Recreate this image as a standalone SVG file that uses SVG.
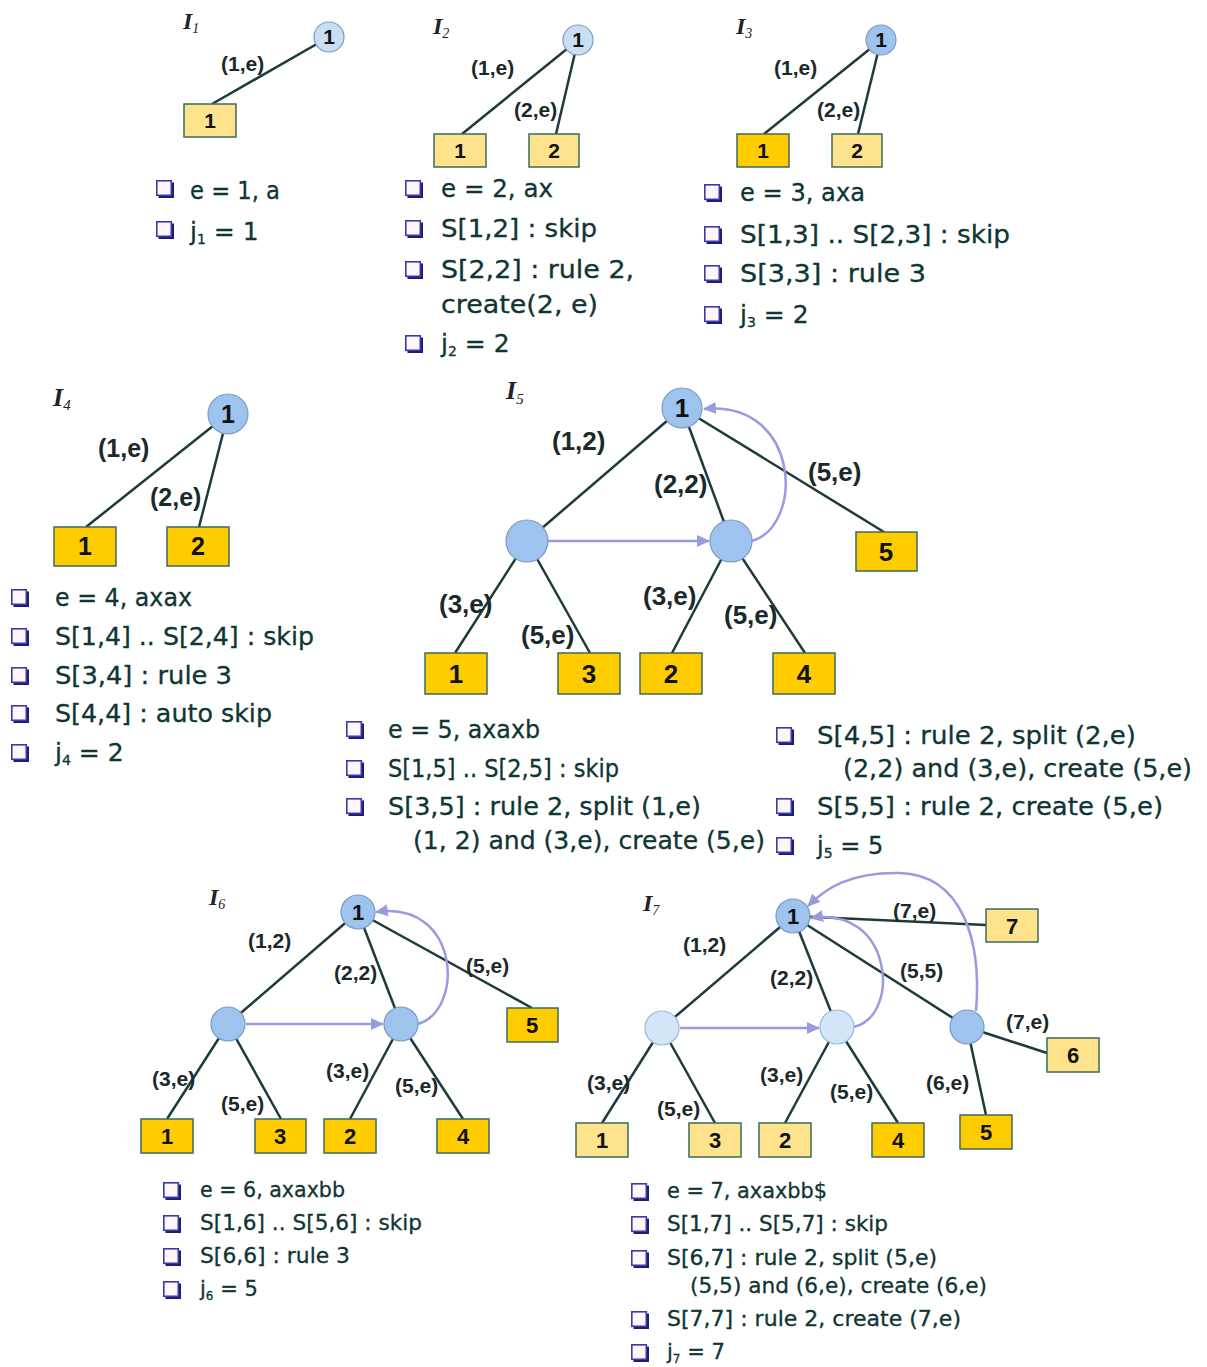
<svg xmlns="http://www.w3.org/2000/svg" xmlns:xlink="http://www.w3.org/1999/xlink" width="1207" height="1367" viewBox="0 0 1207 1367">
<style>
.e{stroke:#1f3a3a;stroke-width:2.5;fill:none}
.b{stroke:#9a9ae0;stroke-width:2.5;fill:none}
.lt{fill:#ffe38c;stroke:#3b6b5b;stroke-width:1.5}
.st{fill:#ffcc00;stroke:#3b6b5b;stroke-width:1.5}
.c1{fill:#c8def3;stroke:#7a9cc0;stroke-width:1.2}
.c2{fill:#9dc3ee;stroke:#7a9cc0;stroke-width:1.2}
.c3{fill:#d3e6f8;stroke:#9ab8d8;stroke-width:1.2}
.n{font-family:"Liberation Sans",Arial,sans-serif;font-weight:bold;fill:#111;text-anchor:middle}
.l{font-family:"Liberation Sans",Arial,sans-serif;font-weight:bold;fill:#1a2a2a}
.t{font-family:"DejaVu Sans","Liberation Sans",sans-serif;fill:#0f3535;stroke:#0f3535;stroke-width:0.3}
.I{font-family:"Liberation Serif","Times New Roman",serif;font-style:italic;font-weight:bold;fill:#222}
</style>
<defs>
<marker id="ar" markerUnits="userSpaceOnUse" markerWidth="14" markerHeight="12" refX="12" refY="6" orient="auto">
<path d="M0,0 L13,6 L0,12 Z" fill="#9a9ae0"/>
</marker>
<g id="bul"><rect x="2.5" y="2.5" width="15.5" height="15.5" fill="#1c1c78"/><rect x="0.8" y="0.8" width="14.5" height="14.5" fill="#fff6fb" stroke="#3a3aa8" stroke-width="1.6"/></g>
</defs>
<rect width="1207" height="1367" fill="#fff"/>

<g id="connectors">
<line class="e" x1="329" y1="37" x2="212" y2="104"/>
<line class="e" x1="578" y1="40" x2="462" y2="134"/>
<line class="e" x1="578" y1="40" x2="556" y2="134"/>
<line class="e" x1="881" y1="40" x2="764" y2="134"/>
<line class="e" x1="881" y1="40" x2="858" y2="134"/>
<line class="e" x1="228" y1="414" x2="86" y2="527"/>
<line class="e" x1="228" y1="414" x2="199" y2="527"/>
<line class="e" x1="682" y1="408" x2="527" y2="541"/>
<line class="e" x1="682" y1="408" x2="731" y2="541"/>
<line class="e" x1="682" y1="408" x2="884" y2="532"/>
<line class="e" x1="527" y1="541" x2="455" y2="653"/>
<line class="e" x1="527" y1="541" x2="590" y2="653"/>
<line class="e" x1="731" y1="541" x2="672" y2="653"/>
<line class="e" x1="731" y1="541" x2="805" y2="653"/>
<line class="b" x1="548" y1="541" x2="709" y2="541" marker-end="url(#ar)"/>
<path class="b" d="M752,541 C805,525 800,400 704,409" marker-end="url(#ar)"/>
<line class="e" x1="358" y1="912" x2="228" y2="1024"/>
<line class="e" x1="358" y1="912" x2="401" y2="1024"/>
<line class="e" x1="358" y1="912" x2="532" y2="1008"/>
<line class="e" x1="228" y1="1024" x2="167" y2="1119"/>
<line class="e" x1="228" y1="1024" x2="281" y2="1119"/>
<line class="e" x1="401" y1="1024" x2="350" y2="1119"/>
<line class="e" x1="401" y1="1024" x2="463" y2="1119"/>
<line class="b" x1="246" y1="1024" x2="383" y2="1024" marker-end="url(#ar)"/>
<path class="b" d="M418,1024 C465,1010 460,900 376,912" marker-end="url(#ar)"/>
<line class="e" x1="793" y1="916" x2="986" y2="925"/>
<line class="e" x1="793" y1="916" x2="662" y2="1028"/>
<line class="e" x1="793" y1="916" x2="837" y2="1027"/>
<line class="e" x1="793" y1="916" x2="967" y2="1027"/>
<line class="e" x1="967" y1="1027" x2="1047" y2="1053"/>
<line class="e" x1="967" y1="1027" x2="986" y2="1115"/>
<line class="e" x1="662" y1="1028" x2="602" y2="1123"/>
<line class="e" x1="662" y1="1028" x2="715" y2="1123"/>
<line class="e" x1="837" y1="1027" x2="785" y2="1123"/>
<line class="e" x1="837" y1="1027" x2="898" y2="1123"/>
<line class="b" x1="680" y1="1028" x2="819" y2="1028" marker-end="url(#ar)"/>
<path class="b" d="M854,1027 C902,1015 892,905 811,918" marker-end="url(#ar)"/>
<path class="b" d="M976,1011 C982,940 962,875 900,873 C850,872 826,888 808,906" marker-end="url(#ar)"/>
</g>

<g id="edge-labels">
<text class="l" font-size="21" x="221" y="71">(1,e)</text>
<text class="l" font-size="21" x="471" y="75">(1,e)</text>
<text class="l" font-size="21" x="514" y="117">(2,e)</text>
<text class="l" font-size="21" x="774" y="75">(1,e)</text>
<text class="l" font-size="21" x="817" y="117">(2,e)</text>
<text class="l" font-size="25" x="98" y="457">(1,e)</text>
<text class="l" font-size="25" x="150" y="506">(2,e)</text>
<text class="l" font-size="26" x="552" y="450">(1,2)</text>
<text class="l" font-size="26" x="654" y="493">(2,2)</text>
<text class="l" font-size="26" x="808" y="481">(5,e)</text>
<text class="l" font-size="26" x="439" y="613">(3,e)</text>
<text class="l" font-size="26" x="521" y="644">(5,e)</text>
<text class="l" font-size="26" x="643" y="605">(3,e)</text>
<text class="l" font-size="26" x="724" y="624">(5,e)</text>
<text class="l" font-size="21" x="248" y="948">(1,2)</text>
<text class="l" font-size="21" x="334" y="980">(2,2)</text>
<text class="l" font-size="21" x="466" y="973">(5,e)</text>
<text class="l" font-size="21" x="152" y="1086">(3,e)</text>
<text class="l" font-size="21" x="221" y="1111">(5,e)</text>
<text class="l" font-size="21" x="326" y="1078">(3,e)</text>
<text class="l" font-size="21" x="395" y="1093">(5,e)</text>
<text class="l" font-size="21" x="683" y="952">(1,2)</text>
<text class="l" font-size="21" x="770" y="985">(2,2)</text>
<text class="l" font-size="21" x="900" y="978">(5,5)</text>
<text class="l" font-size="21" x="893" y="918">(7,e)</text>
<text class="l" font-size="21" x="1006" y="1029">(7,e)</text>
<text class="l" font-size="21" x="926" y="1090">(6,e)</text>
<text class="l" font-size="21" x="587" y="1090">(3,e)</text>
<text class="l" font-size="21" x="657" y="1116">(5,e)</text>
<text class="l" font-size="21" x="760" y="1082">(3,e)</text>
<text class="l" font-size="21" x="830" y="1099">(5,e)</text>
</g>

<g id="I1">
<text class="I" font-size="24" x="183" y="29">I<tspan font-size="14" font-weight="normal" dy="4">1</tspan></text>
<g id="I1-root"><circle class="c1" cx="329" cy="37" r="15"/><text class="n" font-size="21" x="329" y="44">1</text></g>
<g id="I1-leaf1"><rect class="lt" x="184" y="104" width="52" height="33"/><text class="n" font-size="21" x="210" y="128">1</text></g>
</g>
<g id="I2">
<text class="I" font-size="24" x="433" y="34">I<tspan font-size="14" font-weight="normal" dy="4">2</tspan></text>
<g id="I2-root"><circle class="c1" cx="578" cy="40" r="15"/><text class="n" font-size="21" x="578" y="47">1</text></g>
<g id="I2-leaf1"><rect class="lt" x="434" y="134" width="52" height="33"/><text class="n" font-size="21" x="460" y="158">1</text></g>
<g id="I2-leaf2"><rect class="lt" x="529" y="134" width="50" height="33"/><text class="n" font-size="21" x="554" y="158">2</text></g>
</g>
<g id="I3">
<text class="I" font-size="24" x="736" y="34">I<tspan font-size="14" font-weight="normal" dy="4">3</tspan></text>
<g id="I3-root"><circle class="c2" cx="881" cy="40" r="15"/><text class="n" font-size="21" x="881" y="47">1</text></g>
<g id="I3-leaf1"><rect class="st" x="737" y="134" width="52" height="33"/><text class="n" font-size="21" x="763" y="158">1</text></g>
<g id="I3-leaf2"><rect class="lt" x="832" y="134" width="50" height="33"/><text class="n" font-size="21" x="857" y="158">2</text></g>
</g>
<g id="I4">
<text class="I" font-size="26" x="53" y="406">I<tspan font-size="15" font-weight="normal" dy="4">4</tspan></text>
<g id="I4-root"><circle class="c2" cx="228" cy="414" r="20"/><text class="n" font-size="25" x="228" y="423">1</text></g>
<g id="I4-leaf1"><rect class="st" x="54" y="527" width="62" height="39"/><text class="n" font-size="25" x="85" y="555">1</text></g>
<g id="I4-leaf2"><rect class="st" x="167" y="527" width="62" height="39"/><text class="n" font-size="25" x="198" y="555">2</text></g>
</g>
<g id="I5">
<text class="I" font-size="26" x="506" y="399">I<tspan font-size="15" font-weight="normal" dy="5">5</tspan></text>
<g id="I5-root"><circle class="c2" cx="682" cy="408" r="20"/><text class="n" font-size="26" x="682" y="417">1</text></g>
<g id="I5-int1"><circle class="c2" cx="527" cy="541" r="21"/></g>
<g id="I5-int2"><circle class="c2" cx="731" cy="541" r="21"/></g>
<g id="I5-leaf5"><rect class="st" x="856" y="532" width="61" height="39"/><text class="n" font-size="26" x="886" y="561">5</text></g>
<g id="I5-leaf1"><rect class="st" x="425" y="653" width="62" height="41"/><text class="n" font-size="26" x="456" y="683">1</text></g>
<g id="I5-leaf3"><rect class="st" x="558" y="653" width="62" height="41"/><text class="n" font-size="26" x="589" y="683">3</text></g>
<g id="I5-leaf2"><rect class="st" x="640" y="653" width="62" height="41"/><text class="n" font-size="26" x="671" y="683">2</text></g>
<g id="I5-leaf4"><rect class="st" x="773" y="653" width="62" height="41"/><text class="n" font-size="26" x="804" y="683">4</text></g>
</g>
<g id="I6">
<text class="I" font-size="24" x="209" y="905">I<tspan font-size="14" font-weight="normal" dy="4">6</tspan></text>
<g id="I6-root"><circle class="c2" cx="358" cy="912" r="17"/><text class="n" font-size="22" x="358" y="920">1</text></g>
<g id="I6-int1"><circle class="c2" cx="228" cy="1024" r="17"/></g>
<g id="I6-int2"><circle class="c2" cx="401" cy="1024" r="17"/></g>
<g id="I6-leaf5"><rect class="st" x="507" y="1008" width="51" height="34"/><text class="n" font-size="22" x="532" y="1033">5</text></g>
<g id="I6-leaf1"><rect class="st" x="141" y="1119" width="52" height="34"/><text class="n" font-size="22" x="167" y="1144">1</text></g>
<g id="I6-leaf3"><rect class="st" x="255" y="1119" width="51" height="34"/><text class="n" font-size="22" x="280" y="1144">3</text></g>
<g id="I6-leaf2"><rect class="st" x="324" y="1119" width="52" height="34"/><text class="n" font-size="22" x="350" y="1144">2</text></g>
<g id="I6-leaf4"><rect class="st" x="437" y="1119" width="52" height="34"/><text class="n" font-size="22" x="463" y="1144">4</text></g>
</g>
<g id="I7">
<text class="I" font-size="24" x="643" y="911">I<tspan font-size="14" font-weight="normal" dy="4">7</tspan></text>
<g id="I7-root"><circle class="c2" cx="793" cy="916" r="17"/><text class="n" font-size="22" x="793" y="924">1</text></g>
<g id="I7-int1"><circle class="c3" cx="662" cy="1028" r="17"/></g>
<g id="I7-int2"><circle class="c3" cx="837" cy="1027" r="17"/></g>
<g id="I7-int3"><circle class="c2" cx="967" cy="1027" r="17"/></g>
<g id="I7-leaf7"><rect class="lt" x="986" y="909" width="52" height="33"/><text class="n" font-size="22" x="1012" y="934">7</text></g>
<g id="I7-leaf6"><rect class="lt" x="1047" y="1038" width="52" height="34"/><text class="n" font-size="22" x="1073" y="1063">6</text></g>
<g id="I7-leaf5"><rect class="st" x="960" y="1115" width="52" height="34"/><text class="n" font-size="22" x="986" y="1140">5</text></g>
<g id="I7-leaf1"><rect class="lt" x="576" y="1123" width="52" height="34"/><text class="n" font-size="22" x="602" y="1148">1</text></g>
<g id="I7-leaf3"><rect class="lt" x="689" y="1123" width="52" height="34"/><text class="n" font-size="22" x="715" y="1148">3</text></g>
<g id="I7-leaf2"><rect class="lt" x="759" y="1123" width="52" height="34"/><text class="n" font-size="22" x="785" y="1148">2</text></g>
<g id="I7-leaf4"><rect class="st" x="872" y="1123" width="52" height="34"/><text class="n" font-size="22" x="898" y="1148">4</text></g>
</g>

<g id="notes1">
<use xlink:href="#bul" href="#bul" x="156" y="180"/>
<use xlink:href="#bul" href="#bul" x="156" y="221"/>
<text class="t" font-size="25" x="190" y="199" textLength="90" lengthAdjust="spacingAndGlyphs">e = 1, a</text>
<text class="t" font-size="25" x="190" y="240">j<tspan font-size="14" dy="4">1</tspan><tspan dy="-4"> = 1</tspan></text>
</g>
<g id="notes2">
<use xlink:href="#bul" href="#bul" x="405" y="180"/>
<use xlink:href="#bul" href="#bul" x="405" y="220"/>
<use xlink:href="#bul" href="#bul" x="405" y="261"/>
<use xlink:href="#bul" href="#bul" x="405" y="335"/>
<text class="t" font-size="25" x="441" y="197" textLength="112" lengthAdjust="spacingAndGlyphs">e = 2, ax</text>
<text class="t" font-size="25" x="441" y="237" textLength="156" lengthAdjust="spacingAndGlyphs">S[1,2] : skip</text>
<text class="t" font-size="25" x="441" y="278" textLength="193" lengthAdjust="spacingAndGlyphs">S[2,2] : rule 2,</text>
<text class="t" font-size="25" x="441" y="313" textLength="157" lengthAdjust="spacingAndGlyphs">create(2, e)</text>
<text class="t" font-size="25" x="441" y="352">j<tspan font-size="14" dy="4">2</tspan><tspan dy="-4"> = 2</tspan></text>
</g>
<g id="notes3">
<use xlink:href="#bul" href="#bul" x="704" y="184"/>
<use xlink:href="#bul" href="#bul" x="704" y="226"/>
<use xlink:href="#bul" href="#bul" x="704" y="265"/>
<use xlink:href="#bul" href="#bul" x="704" y="306"/>
<text class="t" font-size="25" x="740" y="201" textLength="125" lengthAdjust="spacingAndGlyphs">e = 3, axa</text>
<text class="t" font-size="25" x="740" y="243" textLength="270" lengthAdjust="spacingAndGlyphs">S[1,3] .. S[2,3] : skip</text>
<text class="t" font-size="25" x="740" y="282" textLength="186" lengthAdjust="spacingAndGlyphs">S[3,3] : rule 3</text>
<text class="t" font-size="25" x="740" y="323">j<tspan font-size="14" dy="4">3</tspan><tspan dy="-4"> = 2</tspan></text>
</g>
<g id="notes4">
<use xlink:href="#bul" href="#bul" x="11" y="589"/>
<use xlink:href="#bul" href="#bul" x="11" y="628"/>
<use xlink:href="#bul" href="#bul" x="11" y="667"/>
<use xlink:href="#bul" href="#bul" x="11" y="705"/>
<use xlink:href="#bul" href="#bul" x="11" y="744"/>
<text class="t" font-size="25" x="55" y="606" textLength="137" lengthAdjust="spacingAndGlyphs">e = 4, axax</text>
<text class="t" font-size="25" x="55" y="645" textLength="259" lengthAdjust="spacingAndGlyphs">S[1,4] .. S[2,4] : skip</text>
<text class="t" font-size="25" x="55" y="684" textLength="177" lengthAdjust="spacingAndGlyphs">S[3,4] : rule 3</text>
<text class="t" font-size="25" x="55" y="722" textLength="217" lengthAdjust="spacingAndGlyphs">S[4,4] : auto skip</text>
<text class="t" font-size="25" x="55" y="761">j<tspan font-size="14" dy="4">4</tspan><tspan dy="-4"> = 2</tspan></text>
</g>
<g id="notes5">
<use xlink:href="#bul" href="#bul" x="346" y="721"/>
<use xlink:href="#bul" href="#bul" x="346" y="760"/>
<use xlink:href="#bul" href="#bul" x="346" y="798"/>
<use xlink:href="#bul" href="#bul" x="776" y="727"/>
<use xlink:href="#bul" href="#bul" x="776" y="798"/>
<use xlink:href="#bul" href="#bul" x="776" y="837"/>
<text class="t" font-size="24" x="388" y="738" textLength="152" lengthAdjust="spacingAndGlyphs">e = 5, axaxb</text>
<text class="t" font-size="24" x="388" y="777" textLength="231" lengthAdjust="spacingAndGlyphs">S[1,5] .. S[2,5] : skip</text>
<text class="t" font-size="24" x="388" y="815" textLength="313" lengthAdjust="spacingAndGlyphs">S[3,5] : rule 2, split (1,e)</text>
<text class="t" font-size="24" x="413" y="849" textLength="352" lengthAdjust="spacingAndGlyphs">(1, 2) and (3,e), create (5,e)</text>
<text class="t" font-size="24" x="817" y="744" textLength="319" lengthAdjust="spacingAndGlyphs">S[4,5] : rule 2, split (2,e)</text>
<text class="t" font-size="24" x="843" y="777" textLength="349" lengthAdjust="spacingAndGlyphs">(2,2) and (3,e), create (5,e)</text>
<text class="t" font-size="24" x="817" y="815" textLength="346" lengthAdjust="spacingAndGlyphs">S[5,5] : rule 2, create (5,e)</text>
<text class="t" font-size="24" x="817" y="854">j<tspan font-size="14" dy="4">5</tspan><tspan dy="-4"> = 5</tspan></text>
</g>
<g id="notes6">
<use xlink:href="#bul" href="#bul" x="163" y="1182"/>
<use xlink:href="#bul" href="#bul" x="163" y="1215"/>
<use xlink:href="#bul" href="#bul" x="163" y="1248"/>
<use xlink:href="#bul" href="#bul" x="163" y="1281"/>
<text class="t" font-size="21" x="200" y="1197" textLength="145" lengthAdjust="spacingAndGlyphs">e = 6, axaxbb</text>
<text class="t" font-size="21" x="200" y="1230" textLength="222" lengthAdjust="spacingAndGlyphs">S[1,6] .. S[5,6] : skip</text>
<text class="t" font-size="21" x="200" y="1263" textLength="150" lengthAdjust="spacingAndGlyphs">S[6,6] : rule 3</text>
<text class="t" font-size="21" x="200" y="1296">j<tspan font-size="12" dy="4">6</tspan><tspan dy="-4"> = 5</tspan></text>
</g>
<g id="notes7">
<use xlink:href="#bul" href="#bul" x="631" y="1183"/>
<use xlink:href="#bul" href="#bul" x="631" y="1216"/>
<use xlink:href="#bul" href="#bul" x="631" y="1250"/>
<use xlink:href="#bul" href="#bul" x="631" y="1311"/>
<use xlink:href="#bul" href="#bul" x="631" y="1344"/>
<text class="t" font-size="21" x="667" y="1198" textLength="160" lengthAdjust="spacingAndGlyphs">e = 7, axaxbb$</text>
<text class="t" font-size="21" x="667" y="1231" textLength="221" lengthAdjust="spacingAndGlyphs">S[1,7] .. S[5,7] : skip</text>
<text class="t" font-size="21" x="667" y="1265" textLength="270" lengthAdjust="spacingAndGlyphs">S[6,7] : rule 2, split (5,e)</text>
<text class="t" font-size="21" x="690" y="1293" textLength="297" lengthAdjust="spacingAndGlyphs">(5,5) and (6,e), create (6,e)</text>
<text class="t" font-size="21" x="667" y="1326" textLength="294" lengthAdjust="spacingAndGlyphs">S[7,7] : rule 2, create (7,e)</text>
<text class="t" font-size="21" x="667" y="1359">j<tspan font-size="12" dy="4">7</tspan><tspan dy="-4"> = 7</tspan></text>
</g>
</svg>
